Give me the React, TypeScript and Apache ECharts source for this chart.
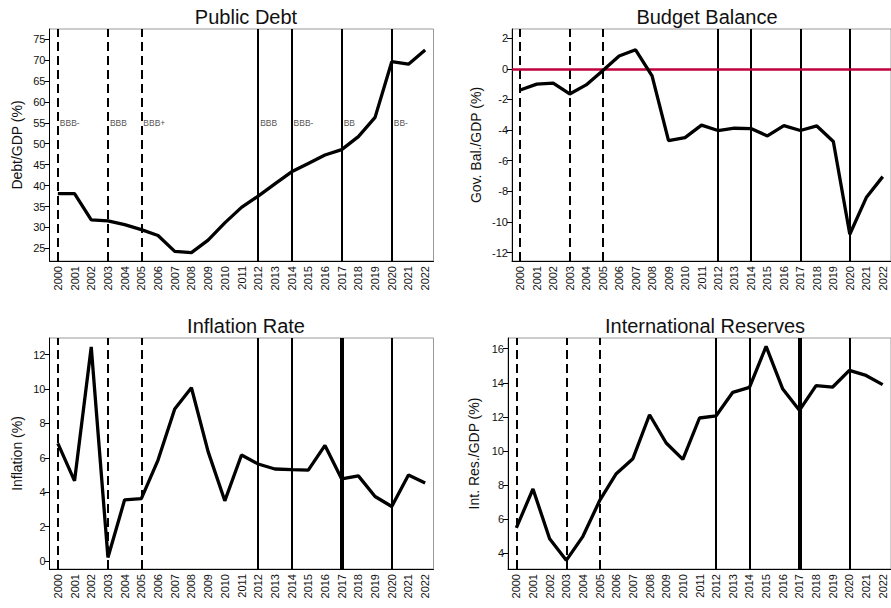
import React, { useEffect, useRef } from "react";
import * as echarts from "echarts";

const years = ["2000","2001","2002","2003","2004","2005","2006","2007","2008","2009","2010","2011","2012","2013","2014","2015","2016","2017","2018","2019","2020","2021","2022"];

const publicDebt = [38.1,38.1,31.8,31.6,30.7,29.5,28.1,24.3,24.0,27.0,31.1,34.8,37.5,40.4,43.3,45.3,47.3,48.6,51.7,56.3,69.6,69.0,72.4];
const budgetBalance = [-1.38,-1.0,-0.94,-1.64,-1.05,-0.12,0.84,1.24,-0.46,-4.69,-4.49,-3.68,-4.03,-3.88,-3.9,-4.38,-3.71,-4.03,-3.73,-4.75,-10.8,-8.41,-7.04];
const inflation = [6.84,4.66,12.44,0.21,3.56,3.63,5.87,8.83,10.07,6.36,3.5,6.16,5.64,5.35,5.31,5.28,6.72,4.77,4.95,3.75,3.17,5.0,4.54];
const reserves = [5.47,7.76,4.84,3.57,4.98,7.07,8.66,9.54,12.12,10.46,9.5,11.93,12.06,13.44,13.73,16.14,13.63,12.38,13.83,13.75,14.73,14.43,13.89];

const ratingYears = ["2000","2003","2005","2012","2014","2017","2020"];
const ratingLabels = ["BBB-","BBB","BBB+","BBB","BBB-","BB","BB-"];
const ratingDashed = [true,true,true,false,false,false,false];
const ratingLabelLevel = 55;

const debtTicks = [25,30,35,40,45,50,55,60,65,70,75];
const budgetTicks = [-12,-10,-8,-6,-4,-2,0,2];
const inflationTicks = [0,2,4,6,8,10,12];
const reservesTicks = [4,6,8,10,12,14,16];

const titles = ["Public Debt","Budget Balance","Inflation Rate","International Reserves"];
const yNames = ["Debt/GDP (%)","Gov. Bal./GDP (%)","Inflation (%)","Int. Res./GDP (%)"];

const FONT = "Liberation Sans, Arial, sans-serif";

export default function App() {
  const ref = useRef<HTMLDivElement>(null);
  useEffect(() => {
    if (!ref.current) return;
    const chart = echarts.init(ref.current, null, { renderer: "svg" });

    const grids = [
      { left: 49.5, top: 29, width: 384, height: 232 },
      { left: 512, top: 29, width: 380, height: 232 },
      { left: 49.5, top: 338, width: 384, height: 231 },
      { left: 508, top: 338, width: 384, height: 231 },
    ];
    const yRanges = [
      { min: 22, max: 77.4, ticks: debtTicks },
      { min: -12.55, max: 2.6, ticks: budgetTicks },
      { min: -0.46, max: 12.96, ticks: inflationTicks },
      { min: 3.06, max: 16.63, ticks: reservesTicks },
    ];
    const nameGaps = [26, 29, 26, 27];
    const data = [publicDebt, budgetBalance, inflation, reserves];

    const vlines = (panel: number) =>
      ratingYears.map((y, i) => ({
        xAxis: y,
        lineStyle: {
          color: "#000",
          width: panel >= 2 && y === "2017" ? 4 : 2,
          type: ratingDashed[i] ? [9, 5] : "solid",
        },
      }));

    const series: any[] = [];
    data.forEach((d, p) => {
      const markData: any[] = vlines(p);
      if (p === 1) {
        markData.push({ yAxis: 0, lineStyle: { color: "#c0003c", width: 2.5, type: "solid" } });
      }
      series.push({
        type: "line",
        xAxisIndex: p,
        yAxisIndex: p,
        data: d,
        symbol: "none",
        lineStyle: { color: "#000", width: 3.3 },
        z: 3,
        markLine: {
          silent: true,
          symbol: ["none", "none"],
          label: { show: false },
          data: markData,
          z: 2,
        },
      });
    });
    series.push({
      type: "scatter",
      xAxisIndex: 0,
      yAxisIndex: 0,
      symbolSize: 0,
      data: ratingYears.map((y, i) => ({ value: [y, ratingLabelLevel], name: ratingLabels[i] })),
      label: {
        show: true,
        position: "right",
        distance: 2,
        formatter: (p: any) => p.name,
        fontSize: 8.5,
        color: "#222",
        fontFamily: FONT,
      },
      z: 4,
    });

    const titleCenters = [241, 702, 241, 700];
    const titleTops = [2, 2, 311, 311];

    chart.setOption({
      animation: false,
      backgroundColor: "#fff",
      title: titles.map((t, i) => ({
        text: t,
        left: titleCenters[i],
        top: titleTops[i],
        textAlign: "center",
        textStyle: { fontSize: 20, fontWeight: "normal", color: "#111", fontFamily: FONT },
      })),
      grid: grids.map((g) => ({ ...g, show: true, borderColor: "#999", borderWidth: 1, containLabel: false })),
      xAxis: grids.map((_, i) => ({
        type: "category",
        gridIndex: i,
        data: years,
        boundaryGap: true,
        axisLine: { onZero: false, lineStyle: { color: "#000", width: 1 } },
        axisTick: { alignWithLabel: true, length: 5, lineStyle: { color: "#000" } },
        axisLabel: { rotate: 90, fontSize: 11, color: "#111", fontFamily: FONT, margin: 5, interval: 0 },
        splitLine: { show: false },
      })),
      yAxis: grids.map((_, i) => ({
        type: "value",
        gridIndex: i,
        min: yRanges[i].min,
        max: yRanges[i].max,
        name: yNames[i],
        nameLocation: "middle",
        nameGap: nameGaps[i],
        nameTextStyle: { fontSize: 14, color: "#111", fontFamily: FONT },
        axisLine: { show: true, onZero: false, lineStyle: { color: "#000", width: 1 } },
        axisTick: { show: true, length: 5, lineStyle: { color: "#000" }, customValues: yRanges[i].ticks },
        axisLabel: { fontSize: 11, color: "#111", fontFamily: FONT, margin: 4, customValues: yRanges[i].ticks },
        splitLine: { show: false },
      })),
      series,
    });
    return () => chart.dispose();
  }, []);
  return <div ref={ref} style={{ position: "fixed", left: 0, top: 0, width: 891, height: 608 }} />;
}
